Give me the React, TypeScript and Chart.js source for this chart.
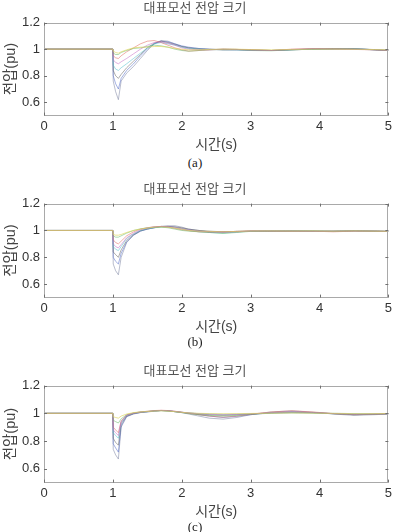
import React, { useEffect, useRef } from 'react';
import { Chart, registerables } from 'chart.js';
Chart.register(...registerables);

const TITLE = '대표모선 전압 크기';
const X_LABEL = '시간(s)';
const Y_LABEL = '전압(pu)';
const CAPTIONS = ['(a)', '(b)', '(c)'];

const time = [0, 1.0, 1.005, 1.04, 1.08, 1.12, 1.2, 1.3, 1.4, 1.5, 1.6, 1.7, 1.8, 1.9, 2.0, 2.1, 2.25, 2.4, 2.6, 2.8, 3.0, 3.3, 3.6, 3.9, 4.2, 4.5, 4.8, 5.0];
const xTicks = [0, 1, 2, 3, 4, 5];
const xTickLabels = ['0', '1', '2', '3', '4', '5'];
const yTicks = [0.6, 0.8, 1, 1.2];
const yTickLabels = ['0.6', '0.8', '1', '1.2'];
const seriesColors = [
  'rgba(120,128,160,0.75)',
  'rgba(80,105,200,0.75)',
  'rgba(90,90,90,0.7)',
  'rgba(80,190,205,0.75)',
  'rgba(225,100,90,0.75)',
  'rgba(100,185,100,0.75)',
  'rgba(195,105,195,0.75)',
  'rgba(225,215,95,0.95)',
];

// panel (a)
const a1 = [1, 1, 0.76, 0.68, 0.62, 0.76, 0.82, 0.87, 0.93, 0.99, 1.04, 1.065, 1.06, 1.04, 1.02, 1.01, 1.005, 1.0, 0.995, 0.997, 0.995, 0.99, 0.995, 1.0, 1.0, 1.005, 0.995, 0.99];
const a2 = [1, 1, 0.8, 0.74, 0.7, 0.78, 0.84, 0.89, 0.95, 1.0, 1.04, 1.06, 1.055, 1.04, 1.025, 1.015, 1.005, 1.0, 0.997, 0.995, 0.993, 0.99, 0.997, 1.0, 1.003, 1.005, 0.995, 0.99];
const a3 = [1, 1, 0.84, 0.8, 0.78, 0.81, 0.86, 0.91, 0.96, 1.01, 1.045, 1.06, 1.05, 1.035, 1.02, 1.01, 1.0, 0.998, 0.995, 0.995, 0.995, 0.99, 0.995, 1.0, 1.002, 1.003, 0.997, 0.99];
const a4 = [1, 1, 0.88, 0.85, 0.84, 0.86, 0.89, 0.93, 0.97, 1.01, 1.04, 1.05, 1.04, 1.03, 1.015, 1.005, 1.0, 0.997, 0.996, 0.995, 0.99, 0.99, 0.996, 1.0, 1.0, 1.002, 0.996, 0.99];
const a5 = [1, 1, 0.95, 0.935, 0.93, 0.95, 0.98, 1.01, 1.04, 1.06, 1.065, 1.05, 1.03, 1.01, 0.995, 0.985, 0.99, 0.995, 1.0, 0.998, 0.995, 0.99, 1.0, 1.005, 1.003, 0.998, 0.995, 0.99];
const a6 = [1, 1, 0.97, 0.96, 0.96, 0.975, 0.99, 1.005, 1.01, 1.02, 1.03, 1.025, 1.015, 1.0, 0.99, 0.985, 0.99, 0.995, 1.0, 0.998, 0.99, 0.988, 0.995, 1.0, 1.002, 1.0, 0.995, 0.99];
const a7 = [1, 1, 0.92, 0.9, 0.89, 0.905, 0.93, 0.965, 1.0, 1.03, 1.05, 1.055, 1.045, 1.03, 1.01, 1.0, 0.995, 0.995, 1.0, 0.998, 0.993, 0.99, 0.998, 1.003, 1.0, 1.0, 0.995, 0.99];
const a8 = [1, 1, 0.985, 0.975, 0.97, 0.98, 0.995, 1.01, 1.015, 1.015, 1.02, 1.02, 1.015, 1.005, 1.0, 0.995, 0.995, 0.998, 1.0, 1.0, 0.997, 0.995, 0.998, 1.0, 1.0, 1.0, 0.997, 0.995];

// panel (b)
const b1 = [1, 1, 0.75, 0.7, 0.67, 0.8, 0.91, 0.965, 0.995, 1.01, 1.02, 1.03, 1.035, 1.035, 1.025, 1.01, 1.0, 0.99, 0.985, 0.99, 0.995, 0.995, 0.997, 0.995, 0.993, 0.997, 0.995, 0.993];
const b2 = [1, 1, 0.8, 0.77, 0.75, 0.83, 0.915, 0.965, 0.995, 1.01, 1.02, 1.03, 1.03, 1.025, 1.015, 1.005, 0.997, 0.99, 0.99, 0.993, 0.995, 0.997, 0.995, 0.993, 0.995, 0.998, 0.995, 0.993];
const b3 = [1, 1, 0.84, 0.82, 0.8, 0.855, 0.925, 0.97, 0.998, 1.012, 1.022, 1.028, 1.03, 1.027, 1.02, 1.01, 1.0, 0.995, 0.99, 0.993, 0.995, 0.995, 0.997, 0.995, 0.995, 0.996, 0.995, 0.993];
const b4 = [1, 1, 0.88, 0.86, 0.85, 0.88, 0.94, 0.975, 1.0, 1.012, 1.02, 1.025, 1.025, 1.02, 1.01, 1.0, 0.99, 0.985, 0.98, 0.988, 0.995, 0.997, 0.995, 0.995, 0.993, 0.997, 0.995, 0.993];
const b5 = [1, 1, 0.93, 0.91, 0.9, 0.92, 0.96, 0.99, 1.01, 1.02, 1.028, 1.03, 1.025, 1.015, 1.005, 0.998, 0.99, 0.988, 0.99, 0.993, 0.997, 0.995, 0.993, 0.995, 0.99, 0.995, 0.995, 0.993];
const b6 = [1, 1, 0.96, 0.95, 0.95, 0.96, 0.98, 1.0, 1.012, 1.02, 1.025, 1.025, 1.02, 1.01, 1.0, 0.995, 0.99, 0.985, 0.978, 0.985, 0.993, 0.995, 0.995, 0.997, 0.995, 0.998, 0.995, 0.993];
const b7 = [1, 1, 0.9, 0.88, 0.87, 0.895, 0.945, 0.98, 1.005, 1.018, 1.026, 1.03, 1.028, 1.022, 1.012, 1.003, 0.995, 0.99, 0.988, 0.99, 0.995, 0.996, 0.995, 0.994, 0.995, 0.997, 0.995, 0.993];
const b8 = [1, 1, 0.97, 0.965, 0.965, 0.97, 0.985, 1.0, 1.01, 1.018, 1.024, 1.027, 1.025, 1.018, 1.01, 1.0, 0.995, 0.993, 0.99, 0.993, 0.996, 0.997, 0.996, 0.996, 0.995, 0.997, 0.995, 0.994];

// panel (c)
const c1 = [1, 1, 0.74, 0.7, 0.67, 0.9, 0.975, 0.995, 1.005, 1.01, 1.015, 1.02, 1.018, 1.012, 1.005, 0.995, 0.98, 0.965, 0.958, 0.97, 0.99, 1.01, 1.018, 1.008, 0.995, 0.985, 0.99, 0.995];
const c2 = [1, 1, 0.78, 0.75, 0.72, 0.91, 0.978, 0.997, 1.006, 1.011, 1.016, 1.02, 1.018, 1.012, 1.006, 1.0, 0.99, 0.98, 0.97, 0.978, 0.99, 1.005, 1.012, 1.005, 0.997, 0.99, 0.993, 0.996];
const c3 = [1, 1, 0.82, 0.79, 0.77, 0.925, 0.98, 0.998, 1.007, 1.012, 1.017, 1.02, 1.017, 1.012, 1.007, 1.003, 0.995, 0.99, 0.985, 0.99, 0.995, 1.0, 1.005, 1.003, 0.998, 0.995, 0.996, 0.997];
const c4 = [1, 1, 0.86, 0.84, 0.82, 0.935, 0.985, 1.0, 1.008, 1.012, 1.016, 1.02, 1.018, 1.013, 1.008, 1.003, 0.998, 0.995, 0.992, 0.993, 0.997, 1.002, 1.003, 1.002, 1.0, 0.998, 0.997, 0.997];
const c5 = [1, 1, 0.9, 0.88, 0.86, 0.945, 0.988, 1.002, 1.01, 1.015, 1.02, 1.022, 1.02, 1.015, 1.008, 1.0, 0.99, 0.98, 0.972, 0.98, 0.993, 1.01, 1.018, 1.01, 0.998, 0.99, 0.993, 0.997];
const c6 = [1, 1, 0.95, 0.94, 0.93, 0.96, 0.99, 1.003, 1.01, 1.014, 1.018, 1.02, 1.017, 1.012, 1.005, 0.998, 0.99, 0.985, 0.98, 0.985, 0.993, 1.003, 1.008, 1.004, 0.997, 0.99, 0.993, 0.997];
const c7 = [1, 1, 0.88, 0.86, 0.84, 0.94, 0.987, 1.001, 1.009, 1.013, 1.017, 1.021, 1.019, 1.014, 1.008, 1.003, 0.997, 0.993, 0.99, 0.992, 0.996, 1.005, 1.01, 1.006, 0.998, 0.993, 0.995, 0.997];
const c8 = [1, 1, 0.975, 0.97, 0.965, 0.98, 0.995, 1.005, 1.01, 1.013, 1.016, 1.018, 1.016, 1.012, 1.007, 1.003, 1.0, 0.998, 0.997, 0.998, 0.999, 1.001, 1.002, 1.001, 1.0, 0.998, 0.998, 0.998];

const panelSeries = [
  [a1, a2, a3, a4, a5, a6, a7, a8],
  [b1, b2, b3, b4, b5, b6, b7, b8],
  [c1, c2, c3, c4, c5, c6, c7, c8],
];

const panelLayout = [
  { top: 0, height: 154, captionY: 155 },
  { top: 181, height: 155, captionY: 334 },
  { top: 362.5, height: 158, captionY: 519 },
];

const FONT = '"Liberation Sans", Arial, "Noto Sans CJK KR", sans-serif';

const boxPlugin = {
  id: 'matlabBox',
  afterDatasetsDraw(chart: any) {
    const { ctx, chartArea, scales } = chart;
    const { left, right, top, bottom } = chartArea;
    const x = scales.x;
    const y = scales.y;
    ctx.save();
    ctx.strokeStyle = '#a9a9a9';
    ctx.lineWidth = 1;
    ctx.strokeRect(Math.round(left) + 0.5, Math.round(top) + 0.5, Math.round(right - left) - 1, Math.round(bottom - top) - 1);
    ctx.strokeStyle = '#707070';
    ctx.beginPath();
    const tl = 3;
    x.ticks.forEach((t: any) => {
      const px = Math.round(x.getPixelForValue(t.value)) + 0.5;
      ctx.moveTo(px, top);
      ctx.lineTo(px, top + tl);
      ctx.moveTo(px, bottom);
      ctx.lineTo(px, bottom - tl);
    });
    y.ticks.forEach((t: any) => {
      const py = Math.round(y.getPixelForValue(t.value)) + 0.5;
      ctx.moveTo(left, py);
      ctx.lineTo(left + tl, py);
      ctx.moveTo(right, py);
      ctx.lineTo(right - tl, py);
    });
    ctx.stroke();
    ctx.restore();
  },
};

function Panel({ index }: { index: number }) {
  const ref = useRef<HTMLCanvasElement>(null);
  const lay = panelLayout[index];
  useEffect(() => {
    if (!ref.current) return;
    const n = panelSeries[index].length;
    const datasets = panelSeries[index].map((s, i) => ({
      data: time.map((t, k) => ({ x: t, y: s[k] })),
      borderColor: seriesColors[i],
      borderWidth: 0.7,
      pointRadius: 0,
      fill: false,
      tension: 0,
      order: n - 1 - i,
    }));
    const chart = new Chart(ref.current, {
      type: 'line',
      data: { datasets },
      plugins: [boxPlugin],
      options: {
        animation: false,
        responsive: false,
        devicePixelRatio: 1,
        layout: { padding: { left: 0, right: 5, top: 0, bottom: 0 } },
        plugins: {
          legend: { display: false },
          tooltip: { enabled: false },
          title: {
            display: true,
            text: TITLE,
            color: '#555555',
            font: { family: FONT, size: 13, weight: 'normal', lineHeight: 1.2 },
            padding: { top: 1, bottom: 6 },
          },
        },
        scales: {
          x: {
            type: 'linear',
            min: 0,
            max: 5,
            grid: { display: false, drawTicks: false },
            border: { display: false },
            afterBuildTicks: (scale: any) => {
              scale.ticks = xTicks.map((v) => ({ value: v }));
            },
            ticks: {
              color: '#333333',
              padding: 3,
              maxRotation: 0,
              font: { family: FONT, size: 13 },
              callback: (_v: any, i: number) => xTickLabels[i],
            },
            title: {
              display: true,
              text: X_LABEL,
              color: '#444444',
              font: { family: FONT, size: 14 },
              padding: { top: 0, bottom: 0 },
            },
          },
          y: {
            type: 'linear',
            min: 0.5,
            max: 1.2,
            grid: { display: false, drawTicks: false },
            border: { display: false },
            afterBuildTicks: (scale: any) => {
              scale.ticks = yTicks.map((v) => ({ value: v }));
            },
            afterFit: (scale: any) => {
              scale.width = 44;
            },
            ticks: {
              color: '#333333',
              padding: 4,
              font: { family: FONT, size: 13 },
              callback: (_v: any, i: number) => yTickLabels[i],
            },
            title: {
              display: true,
              text: Y_LABEL,
              color: '#444444',
              font: { family: FONT, size: 14.5 },
              padding: { top: 2, bottom: 0 },
            },
          },
        },
      } as any,
    });
    return () => chart.destroy();
  }, [index]);
  return (
    <>
      <canvas
        ref={ref}
        width={395}
        height={lay.height}
        style={{ position: 'absolute', left: 0, top: lay.top, width: 395, height: lay.height }}
      />
      <div
        style={{
          position: 'absolute',
          left: 0,
          width: 390,
          top: lay.captionY,
          textAlign: 'center',
          fontFamily: '"Liberation Serif", "DejaVu Serif", serif',
          fontSize: 13,
          color: '#222',
          lineHeight: '16px',
        }}
      >
        {CAPTIONS[index]}
      </div>
    </>
  );
}

export default function App() {
  return (
    <div style={{ position: 'absolute', left: 0, top: 0, width: 395, height: 532, background: '#fff', overflow: 'hidden' }}>
      <Panel index={0} />
      <Panel index={1} />
      <Panel index={2} />
    </div>
  );
}
